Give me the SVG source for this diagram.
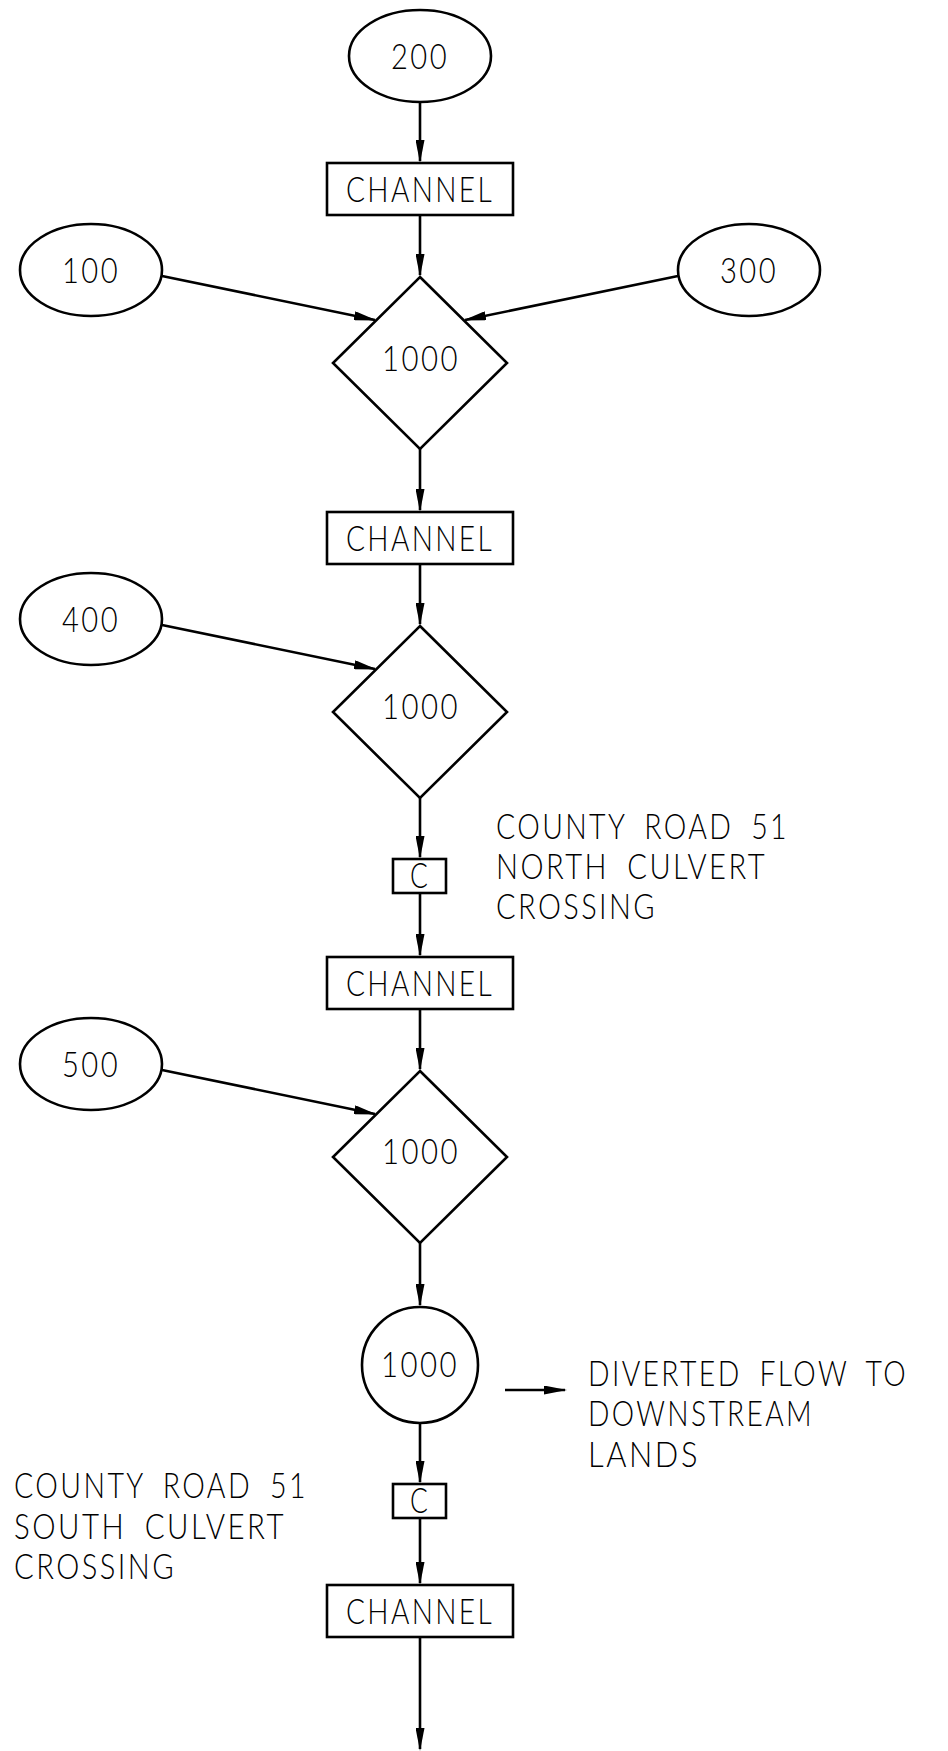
<svg xmlns="http://www.w3.org/2000/svg" width="948" height="1751" viewBox="0 0 948 1751">
<style>
.s{fill:#fff;stroke:#000;stroke-width:2.6}
.t{font-family:Lato,"Liberation Sans",Arial,sans-serif;font-weight:300;font-size:36px;fill:#000;letter-spacing:3px;word-spacing:10px}
.m{text-anchor:middle}
.c{stroke:#000;stroke-width:2.6;fill:none;marker-end:url(#ah)}
</style>
<defs>
<marker id="ah" viewBox="0 0 23 9" refX="21" refY="4.5" markerWidth="23" markerHeight="9" orient="auto" markerUnits="userSpaceOnUse">
<path d="M0,0 L23,4.5 L0,9 z" fill="#000"/>
</marker>
</defs>
<rect width="948" height="1751" fill="#fff"/>
<g id="connectors">
<line class="c" x1="420" y1="102" x2="420" y2="161"/>
<line class="c" x1="420" y1="215" x2="420" y2="275"/>
<line class="c" x1="162" y1="276" x2="375" y2="320"/>
<line class="c" x1="678" y1="276" x2="465" y2="320"/>
<line class="c" x1="420" y1="449" x2="420" y2="510"/>
<line class="c" x1="420" y1="564" x2="420" y2="624"/>
<line class="c" x1="162" y1="625" x2="375" y2="669"/>
<line class="c" x1="420" y1="798" x2="420" y2="857"/>
<line class="c" x1="420" y1="893" x2="420" y2="955"/>
<line class="c" x1="420" y1="1009" x2="420" y2="1069"/>
<line class="c" x1="162" y1="1070" x2="375" y2="1114"/>
<line class="c" x1="420" y1="1243" x2="420" y2="1305"/>
<line class="c" x1="505" y1="1390" x2="565" y2="1390"/>
<line class="c" x1="420" y1="1423" x2="420" y2="1482"/>
<line class="c" x1="420" y1="1518" x2="420" y2="1583"/>
<line class="c" x1="420" y1="1637" x2="420" y2="1749"/>
</g>
<g id="n200"><ellipse class="s" cx="420" cy="56" rx="71" ry="46"/><text class="t m" x="420" y="69" textLength="58" lengthAdjust="spacingAndGlyphs">200</text></g>
<g id="ch1"><rect class="s" x="327" y="163" width="186" height="52"/><text class="t m" x="420" y="202" textLength="148" lengthAdjust="spacingAndGlyphs">CHANNEL</text></g>
<g id="n100"><ellipse class="s" cx="91" cy="270" rx="71" ry="46"/><text class="t m" x="91" y="283" textLength="58" lengthAdjust="spacingAndGlyphs">100</text></g>
<g id="n300"><ellipse class="s" cx="749" cy="270" rx="71" ry="46"/><text class="t m" x="749" y="283" textLength="58" lengthAdjust="spacingAndGlyphs">300</text></g>
<g id="d1"><polygon class="s" points="420,277 507,363 420,449 333,363"/><text class="t m" x="421" y="371" textLength="78" lengthAdjust="spacingAndGlyphs">1000</text></g>
<g id="ch2"><rect class="s" x="327" y="512" width="186" height="52"/><text class="t m" x="420" y="551" textLength="148" lengthAdjust="spacingAndGlyphs">CHANNEL</text></g>
<g id="n400"><ellipse class="s" cx="91" cy="619" rx="71" ry="46"/><text class="t m" x="91" y="632" textLength="58" lengthAdjust="spacingAndGlyphs">400</text></g>
<g id="d2"><polygon class="s" points="420,626 507,712 420,798 333,712"/><text class="t m" x="421" y="719" textLength="78" lengthAdjust="spacingAndGlyphs">1000</text></g>
<g id="c1"><rect class="s" x="393" y="859" width="53" height="34"/><text class="t m" x="420" y="888" textLength="20" lengthAdjust="spacingAndGlyphs">C</text></g>
<g id="lbl-north"><text class="t" x="496" y="839" textLength="293" lengthAdjust="spacingAndGlyphs">COUNTY ROAD 51</text><text class="t" x="496" y="879" textLength="271" lengthAdjust="spacingAndGlyphs">NORTH CULVERT</text><text class="t" x="496" y="919" textLength="161" lengthAdjust="spacingAndGlyphs">CROSSING</text></g>
<g id="ch3"><rect class="s" x="327" y="957" width="186" height="52"/><text class="t m" x="420" y="996" textLength="148" lengthAdjust="spacingAndGlyphs">CHANNEL</text></g>
<g id="n500"><ellipse class="s" cx="91" cy="1064" rx="71" ry="46"/><text class="t m" x="91" y="1077" textLength="58" lengthAdjust="spacingAndGlyphs">500</text></g>
<g id="d3"><polygon class="s" points="420,1071 507,1157 420,1243 333,1157"/><text class="t m" x="421" y="1164" textLength="78" lengthAdjust="spacingAndGlyphs">1000</text></g>
<g id="circ"><circle class="s" cx="420" cy="1365" r="58"/><text class="t m" x="420" y="1377" textLength="78" lengthAdjust="spacingAndGlyphs">1000</text></g>
<g id="lbl-div"><text class="t" x="588" y="1386" textLength="320" lengthAdjust="spacingAndGlyphs">DIVERTED FLOW TO</text><text class="t" x="588" y="1426" textLength="226" lengthAdjust="spacingAndGlyphs">DOWNSTREAM</text><text class="t" x="588" y="1467" textLength="112" lengthAdjust="spacingAndGlyphs">LANDS</text></g>
<g id="c2"><rect class="s" x="393" y="1484" width="53" height="34"/><text class="t m" x="420" y="1513" textLength="20" lengthAdjust="spacingAndGlyphs">C</text></g>
<g id="lbl-south"><text class="t" x="14" y="1498" textLength="294" lengthAdjust="spacingAndGlyphs">COUNTY ROAD 51</text><text class="t" x="14" y="1539" textLength="272" lengthAdjust="spacingAndGlyphs">SOUTH CULVERT</text><text class="t" x="14" y="1579" textLength="162" lengthAdjust="spacingAndGlyphs">CROSSING</text></g>
<g id="ch4"><rect class="s" x="327" y="1585" width="186" height="52"/><text class="t m" x="420" y="1624" textLength="148" lengthAdjust="spacingAndGlyphs">CHANNEL</text></g>
</svg>
